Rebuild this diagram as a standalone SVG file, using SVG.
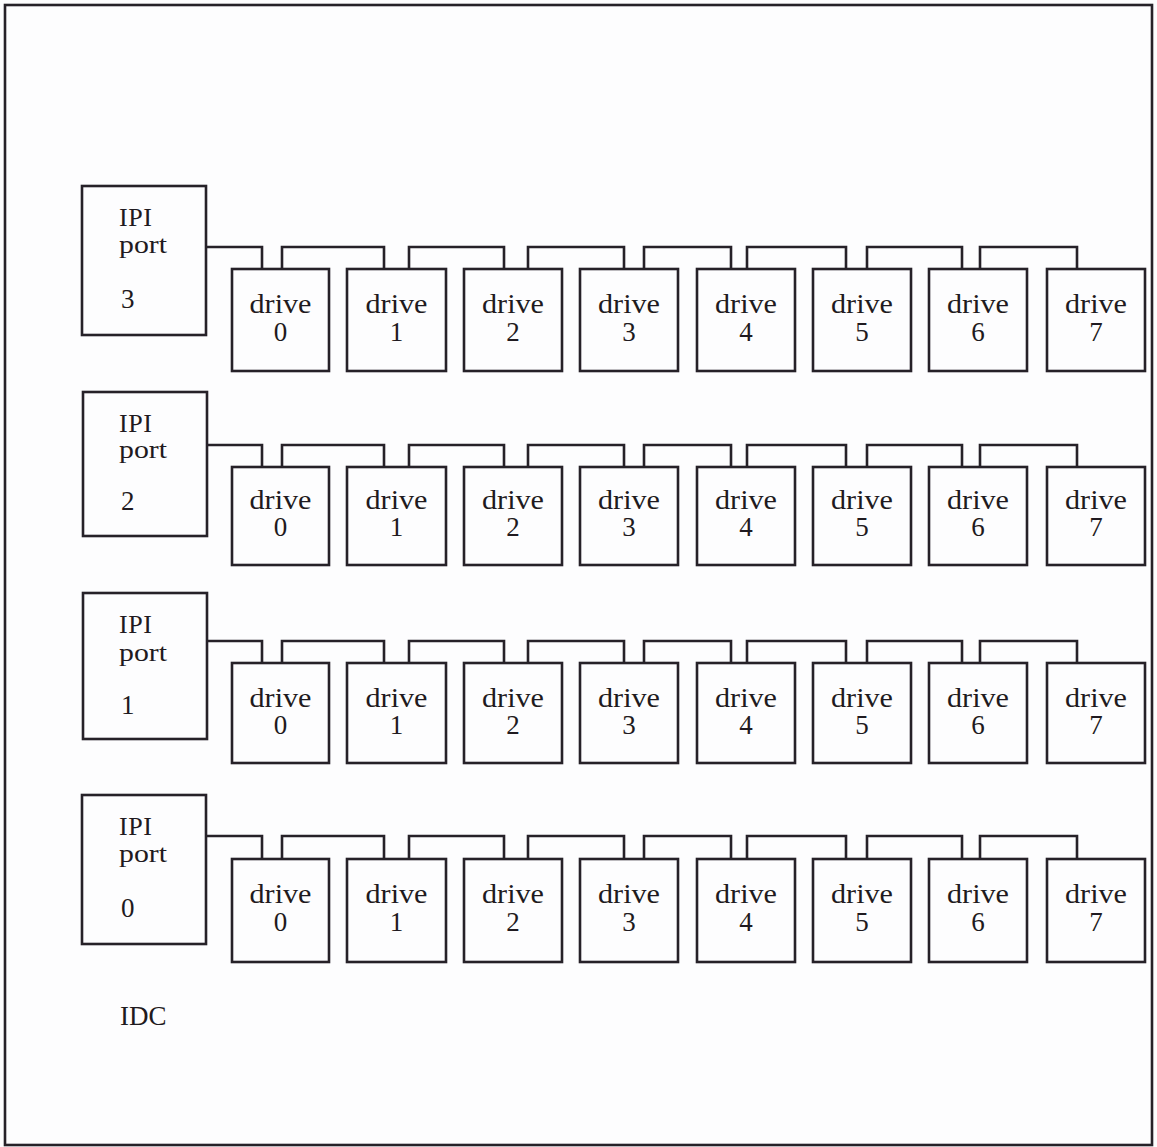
<svg xmlns="http://www.w3.org/2000/svg" width="1157" height="1147" viewBox="0 0 1157 1147">
<style>
.b{fill:none;stroke:#262128;stroke-width:2.6}
.c{fill:none;stroke:#262128;stroke-width:2.6}
text{font-family:"Liberation Serif","Times New Roman",serif;font-size:27px;fill:#1f1a20}
.p{font-size:26px}
.m{text-anchor:middle}
</style>
<rect x="0" y="0" width="1157" height="1147" fill="#fdfdfe"/>
<rect class="b" x="5" y="5" width="1147" height="1140"/>

<g id="port3"><rect class="b" x="82" y="186" width="124" height="149"/><text class="p" x="119" y="226" textLength="33">IPI</text><text class="p" x="119" y="253" textLength="48" lengthAdjust="spacingAndGlyphs">port</text><text x="121" y="308">3</text></g>
<g id="port2"><rect class="b" x="83" y="392" width="124" height="144"/><text class="p" x="119" y="432" textLength="33">IPI</text><text class="p" x="119" y="458" textLength="48" lengthAdjust="spacingAndGlyphs">port</text><text x="121" y="510">2</text></g>
<g id="port1"><rect class="b" x="83" y="593" width="124" height="146"/><text class="p" x="119" y="633" textLength="33">IPI</text><text class="p" x="119" y="661" textLength="48" lengthAdjust="spacingAndGlyphs">port</text><text x="121" y="714">1</text></g>
<g id="port0"><rect class="b" x="82" y="795" width="124" height="149"/><text class="p" x="119" y="835" textLength="33">IPI</text><text class="p" x="119" y="862" textLength="48" lengthAdjust="spacingAndGlyphs">port</text><text x="121" y="917">0</text></g>

<g id="row3-drives">
<g id="r3d0"><rect class="b" x="232" y="269" width="97" height="102"/><text class="m" x="280.5" y="313" textLength="62" lengthAdjust="spacingAndGlyphs">drive</text><text class="m" x="280.5" y="341">0</text></g>
<g id="r3d1"><rect class="b" x="347" y="269" width="99" height="102"/><text class="m" x="396.5" y="313" textLength="62" lengthAdjust="spacingAndGlyphs">drive</text><text class="m" x="396.5" y="341">1</text></g>
<g id="r3d2"><rect class="b" x="464" y="269" width="98" height="102"/><text class="m" x="513" y="313" textLength="62" lengthAdjust="spacingAndGlyphs">drive</text><text class="m" x="513" y="341">2</text></g>
<g id="r3d3"><rect class="b" x="580" y="269" width="98" height="102"/><text class="m" x="629" y="313" textLength="62" lengthAdjust="spacingAndGlyphs">drive</text><text class="m" x="629" y="341">3</text></g>
<g id="r3d4"><rect class="b" x="697" y="269" width="98" height="102"/><text class="m" x="746" y="313" textLength="62" lengthAdjust="spacingAndGlyphs">drive</text><text class="m" x="746" y="341">4</text></g>
<g id="r3d5"><rect class="b" x="813" y="269" width="98" height="102"/><text class="m" x="862" y="313" textLength="62" lengthAdjust="spacingAndGlyphs">drive</text><text class="m" x="862" y="341">5</text></g>
<g id="r3d6"><rect class="b" x="929" y="269" width="98" height="102"/><text class="m" x="978" y="313" textLength="62" lengthAdjust="spacingAndGlyphs">drive</text><text class="m" x="978" y="341">6</text></g>
<g id="r3d7"><rect class="b" x="1047" y="269" width="98" height="102"/><text class="m" x="1096" y="313" textLength="62" lengthAdjust="spacingAndGlyphs">drive</text><text class="m" x="1096" y="341">7</text></g>
</g>

<g id="row2-drives">
<g id="r2d0"><rect class="b" x="232" y="467" width="97" height="98"/><text class="m" x="280.5" y="509" textLength="62" lengthAdjust="spacingAndGlyphs">drive</text><text class="m" x="280.5" y="536">0</text></g>
<g id="r2d1"><rect class="b" x="347" y="467" width="99" height="98"/><text class="m" x="396.5" y="509" textLength="62" lengthAdjust="spacingAndGlyphs">drive</text><text class="m" x="396.5" y="536">1</text></g>
<g id="r2d2"><rect class="b" x="464" y="467" width="98" height="98"/><text class="m" x="513" y="509" textLength="62" lengthAdjust="spacingAndGlyphs">drive</text><text class="m" x="513" y="536">2</text></g>
<g id="r2d3"><rect class="b" x="580" y="467" width="98" height="98"/><text class="m" x="629" y="509" textLength="62" lengthAdjust="spacingAndGlyphs">drive</text><text class="m" x="629" y="536">3</text></g>
<g id="r2d4"><rect class="b" x="697" y="467" width="98" height="98"/><text class="m" x="746" y="509" textLength="62" lengthAdjust="spacingAndGlyphs">drive</text><text class="m" x="746" y="536">4</text></g>
<g id="r2d5"><rect class="b" x="813" y="467" width="98" height="98"/><text class="m" x="862" y="509" textLength="62" lengthAdjust="spacingAndGlyphs">drive</text><text class="m" x="862" y="536">5</text></g>
<g id="r2d6"><rect class="b" x="929" y="467" width="98" height="98"/><text class="m" x="978" y="509" textLength="62" lengthAdjust="spacingAndGlyphs">drive</text><text class="m" x="978" y="536">6</text></g>
<g id="r2d7"><rect class="b" x="1047" y="467" width="98" height="98"/><text class="m" x="1096" y="509" textLength="62" lengthAdjust="spacingAndGlyphs">drive</text><text class="m" x="1096" y="536">7</text></g>
</g>

<g id="row1-drives">
<g id="r1d0"><rect class="b" x="232" y="663" width="97" height="100"/><text class="m" x="280.5" y="707" textLength="62" lengthAdjust="spacingAndGlyphs">drive</text><text class="m" x="280.5" y="734">0</text></g>
<g id="r1d1"><rect class="b" x="347" y="663" width="99" height="100"/><text class="m" x="396.5" y="707" textLength="62" lengthAdjust="spacingAndGlyphs">drive</text><text class="m" x="396.5" y="734">1</text></g>
<g id="r1d2"><rect class="b" x="464" y="663" width="98" height="100"/><text class="m" x="513" y="707" textLength="62" lengthAdjust="spacingAndGlyphs">drive</text><text class="m" x="513" y="734">2</text></g>
<g id="r1d3"><rect class="b" x="580" y="663" width="98" height="100"/><text class="m" x="629" y="707" textLength="62" lengthAdjust="spacingAndGlyphs">drive</text><text class="m" x="629" y="734">3</text></g>
<g id="r1d4"><rect class="b" x="697" y="663" width="98" height="100"/><text class="m" x="746" y="707" textLength="62" lengthAdjust="spacingAndGlyphs">drive</text><text class="m" x="746" y="734">4</text></g>
<g id="r1d5"><rect class="b" x="813" y="663" width="98" height="100"/><text class="m" x="862" y="707" textLength="62" lengthAdjust="spacingAndGlyphs">drive</text><text class="m" x="862" y="734">5</text></g>
<g id="r1d6"><rect class="b" x="929" y="663" width="98" height="100"/><text class="m" x="978" y="707" textLength="62" lengthAdjust="spacingAndGlyphs">drive</text><text class="m" x="978" y="734">6</text></g>
<g id="r1d7"><rect class="b" x="1047" y="663" width="98" height="100"/><text class="m" x="1096" y="707" textLength="62" lengthAdjust="spacingAndGlyphs">drive</text><text class="m" x="1096" y="734">7</text></g>
</g>

<g id="row0-drives">
<g id="r0d0"><rect class="b" x="232" y="859" width="97" height="103"/><text class="m" x="280.5" y="903" textLength="62" lengthAdjust="spacingAndGlyphs">drive</text><text class="m" x="280.5" y="931">0</text></g>
<g id="r0d1"><rect class="b" x="347" y="859" width="99" height="103"/><text class="m" x="396.5" y="903" textLength="62" lengthAdjust="spacingAndGlyphs">drive</text><text class="m" x="396.5" y="931">1</text></g>
<g id="r0d2"><rect class="b" x="464" y="859" width="98" height="103"/><text class="m" x="513" y="903" textLength="62" lengthAdjust="spacingAndGlyphs">drive</text><text class="m" x="513" y="931">2</text></g>
<g id="r0d3"><rect class="b" x="580" y="859" width="98" height="103"/><text class="m" x="629" y="903" textLength="62" lengthAdjust="spacingAndGlyphs">drive</text><text class="m" x="629" y="931">3</text></g>
<g id="r0d4"><rect class="b" x="697" y="859" width="98" height="103"/><text class="m" x="746" y="903" textLength="62" lengthAdjust="spacingAndGlyphs">drive</text><text class="m" x="746" y="931">4</text></g>
<g id="r0d5"><rect class="b" x="813" y="859" width="98" height="103"/><text class="m" x="862" y="903" textLength="62" lengthAdjust="spacingAndGlyphs">drive</text><text class="m" x="862" y="931">5</text></g>
<g id="r0d6"><rect class="b" x="929" y="859" width="98" height="103"/><text class="m" x="978" y="903" textLength="62" lengthAdjust="spacingAndGlyphs">drive</text><text class="m" x="978" y="931">6</text></g>
<g id="r0d7"><rect class="b" x="1047" y="859" width="98" height="103"/><text class="m" x="1096" y="903" textLength="62" lengthAdjust="spacingAndGlyphs">drive</text><text class="m" x="1096" y="931">7</text></g>
</g>

<g id="connectors">
<path class="c" d="M206 247H262V269M282 269V247H384V269M409 269V247H504V269M528 269V247H624V269M644 269V247H731V269M747 269V247H846V269M867 269V247H962V269M980 269V247H1077V269"/>
<path class="c" d="M207 445H262V467M282 467V445H384V467M409 467V445H504V467M528 467V445H624V467M644 467V445H731V467M747 467V445H846V467M867 467V445H962V467M980 467V445H1077V467"/>
<path class="c" d="M207 641H262V663M282 663V641H384V663M409 663V641H504V663M528 663V641H624V663M644 663V641H731V663M747 663V641H846V663M867 663V641H962V663M980 663V641H1077V663"/>
<path class="c" d="M206 836H262V859M282 859V836H384V859M409 859V836H504V859M528 859V836H624V859M644 859V836H731V859M747 859V836H846V859M867 859V836H962V859M980 859V836H1077V859"/>
</g>

<text x="120" y="1025">IDC</text>
</svg>
